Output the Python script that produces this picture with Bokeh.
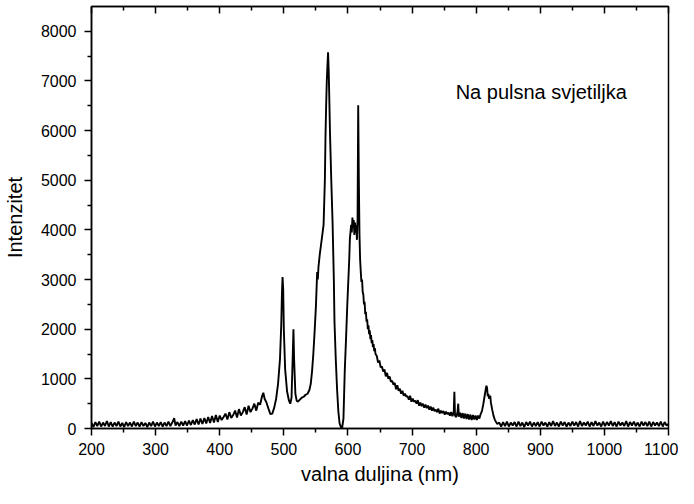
from bokeh.plotting import figure
from bokeh.models import Range1d, LinearAxis, Label, FixedTicker, CustomLabelingPolicy
from bokeh.embed import file_html
from bokeh.resources import INLINE

# spectrum: wavelength (nm) and intensity
wavelength = [
    200, 203, 206, 209, 212, 215, 218, 221, 224, 227, 230, 233, 236, 239, 242, 245, 248, 251, 254, 257,
    260, 263, 266, 269, 272, 275, 278, 281, 284, 287, 290, 293, 296, 299, 302, 305, 308, 311, 314, 317,
    320, 323, 326, 329, 331, 334, 337, 340, 343, 346, 349, 352, 355, 358, 361, 364, 367, 370, 373, 376,
    379, 382, 385, 388, 391, 394, 397, 400, 403, 406, 409, 412, 415, 418, 421, 424, 427, 430, 433, 436,
    439, 442, 445, 448, 451, 454, 457, 460, 463, 466, 468, 470, 473, 476, 479, 482, 485, 488, 491, 494,
    496, 497, 498, 499, 500, 502, 505, 508, 510, 512, 514, 515, 516, 518, 520, 522, 525, 528, 531, 534,
    537, 540, 542, 544, 546, 548, 550, 551, 552, 553, 554, 556, 558, 560, 562, 564, 565, 566, 567, 568,
    569, 570, 571, 572, 574, 576, 578, 579, 581, 583, 585, 587, 589, 591, 593, 595, 597, 599, 600, 602,
    603, 605, 606, 607, 608, 609, 610, 611, 612, 613, 614, 615, 616, 617, 618, 619, 620, 621, 622, 623,
    624, 625, 626, 627, 628, 629, 630, 631, 632, 633, 634, 635, 636, 637, 638, 639, 640, 641, 642, 643,
    645, 647, 649, 651, 653, 655, 657, 659, 661, 663, 665, 667, 669, 671, 673, 675, 677, 679, 681, 683,
    685, 687, 689, 691, 693, 695, 697, 699, 701, 703, 705, 707, 709, 711, 713, 715, 717, 719, 721, 723,
    725, 727, 729, 731, 733, 735, 737, 739, 741, 743, 745, 747, 749, 751, 753, 755, 757, 759, 761, 763,
    765, 766, 767, 769, 771, 772, 773, 775, 777, 779, 781, 783, 785, 787, 789, 791, 793, 795, 797, 799,
    801, 803, 805, 807, 809, 811, 813, 815, 816, 817, 818, 819, 820, 821, 822, 823, 825, 827, 829, 831,
    833, 836, 839, 842, 845, 848, 851, 854, 857, 860, 863, 866, 869, 872, 875, 878, 881, 884, 887, 890,
    893, 896, 899, 902, 905, 908, 911, 914, 917, 920, 923, 926, 929, 932, 935, 938, 941, 944, 947, 950,
    953, 956, 959, 962, 965, 968, 971, 974, 977, 980, 983, 986, 989, 992, 995, 998, 1001, 1004, 1007, 1010,
    1013, 1016, 1019, 1022, 1025, 1028, 1031, 1034, 1037, 1040, 1043, 1046, 1049, 1052, 1055, 1058, 1061, 1064, 1067, 1070,
    1073, 1076, 1079, 1082, 1085, 1088, 1091, 1094, 1097, 1100,
]
intensity = [
    110, 30, 130, 50, 140, 40, 120, 50, 150, 40, 130, 40, 120, 50, 140, 40, 110, 30, 130, 50,
    120, 40, 140, 50, 120, 40, 130, 50, 110, 30, 120, 50, 140, 40, 120, 50, 130, 40, 120, 50,
    140, 50, 120, 210, 60, 130, 50, 140, 60, 150, 60, 160, 70, 170, 80, 190, 80, 200, 90, 210,
    100, 230, 110, 250, 120, 270, 130, 260, 170, 230, 300, 180, 330, 210, 270, 360, 220, 390, 260, 330,
    430, 280, 460, 330, 400, 500, 360, 520, 480, 650, 720, 600, 520, 400, 290, 300, 420, 600, 900, 1400,
    2100, 2700, 3050, 2800, 2000, 1200, 750, 560, 500, 620, 1500, 2000, 1400, 700, 560, 540, 580, 620, 640, 680,
    700, 780, 900, 1150, 1500, 1950, 2450, 2800, 3150, 3000, 3250, 3500, 3700, 3900, 4100, 5000, 5900, 6500, 7000, 7300,
    7580, 7200, 6600, 5950, 5000, 4160, 3000, 2150, 1400, 800, 350, 100, 30, 20, 200, 1150, 1800, 2500, 2800, 3400,
    3820, 4100, 3950, 4250, 4050, 4200, 3900, 4150, 3950, 4100, 3800, 4200, 6510, 5000, 3900, 3400, 3160, 2950, 3000, 2750,
    2700, 2500, 2550, 2300, 2350, 2150, 2200, 2000, 2080, 1900, 1980, 1800, 1880, 1720, 1780, 1640, 1700, 1560, 1620, 1500,
    1460, 1330, 1370, 1230, 1250, 1150, 1190, 1050, 1120, 1000, 1050, 940, 960, 880, 920, 790, 870, 760, 800, 700,
    760, 660, 700, 640, 650, 580, 660, 540, 600, 540, 560, 500, 570, 460, 520, 450, 500, 420, 480, 410,
    460, 380, 440, 360, 420, 350, 380, 330, 400, 300, 360, 310, 350, 280, 340, 290, 320, 260, 330, 250,
    330, 740, 260, 230, 340, 500, 240, 320, 210, 310, 200, 300, 190, 290, 180, 280, 170, 270, 180, 260,
    170, 260, 200, 290, 350, 480, 640, 800, 860, 820, 650, 700, 600, 640, 660, 520, 380, 260, 180, 130,
    90, 120, 40, 130, 50, 140, 40, 120, 60, 130, 40, 140, 50, 120, 30, 130, 60, 140, 40, 120,
    50, 130, 40, 140, 60, 120, 40, 130, 50, 150, 50, 120, 40, 140, 60, 130, 40, 120, 50, 140,
    60, 130, 40, 150, 50, 120, 60, 140, 40, 130, 50, 150, 60, 120, 40, 140, 50, 130, 60, 150,
    50, 130, 40, 140, 60, 120, 50, 150, 40, 130, 60, 140, 50, 120, 40, 140, 60, 130, 50, 140,
    40, 130, 60, 120, 50, 140, 40, 130, 60, 90,
]

x_major = [200, 300, 400, 500, 600, 700, 800, 900, 1000, 1100]
x_minor = [250, 350, 450, 550, 650, 750, 850, 950, 1050]
y_major = [0, 1000, 2000, 3000, 4000, 5000, 6000, 7000, 8000]
y_minor = [500, 1500, 2500, 3500, 4500, 5500, 6500, 7500]

x_title = "valna duljina (nm)"
y_title = "Intenzitet"
note = "Na pulsna svjetiljka"

FONT = "Liberation Sans"

p = figure(width=678, height=488, output_backend="svg", toolbar_location=None,
           x_range=Range1d(200, 1100), y_range=Range1d(0, 8500),
           min_border_left=88, min_border_right=10, min_border_top=6, min_border_bottom=60,
           x_axis_label=x_title, y_axis_label=y_title)
p.grid.visible = False
p.outline_line_color = "black"
p.outline_line_width = 1.5
p.background_fill_color = "white"
p.border_fill_color = "white"

p.line(wavelength, intensity, line_color="black", line_width=1.9)

p.xaxis.ticker = FixedTicker(ticks=x_major, minor_ticks=x_minor)
p.yaxis.ticker = FixedTicker(ticks=y_major, minor_ticks=y_minor)

for ax in (p.xaxis[0], p.yaxis[0]):
    ax.axis_line_width = 1.5
    ax.major_tick_line_width = 1.5
    ax.minor_tick_line_width = 1.5
    ax.major_tick_in = 0
    ax.minor_tick_in = 0
    ax.major_tick_out = 7
    ax.minor_tick_out = 4
    ax.major_label_text_font = FONT
    ax.major_label_text_font_size = "16px"
    ax.major_label_text_color = "black"
    ax.axis_label_text_font = FONT
    ax.axis_label_text_font_size = "20px"
    ax.axis_label_text_font_style = "normal"
    ax.axis_label_text_color = "black"

p.xaxis.major_label_standoff = 7
p.xaxis.axis_label_standoff = 5
p.yaxis.major_label_standoff = 8
p.yaxis.axis_label_standoff = 12

top = LinearAxis(ticker=FixedTicker(ticks=x_major, minor_ticks=x_minor))
top.axis_line_width = 1.5
top.major_tick_line_width = 1.5
top.minor_tick_line_width = 1.5
top.major_tick_in = 7
top.major_tick_out = 0
top.minor_tick_in = 4
top.minor_tick_out = 0
top.major_label_text_font_size = "1px"
top.major_label_standoff = 0
top.major_label_policy = CustomLabelingPolicy(code="""
    for (const i of indices) {
        indices.unset(i)
    }
    return indices
""")
p.add_layout(top, "above")

p.add_layout(Label(x=768, y=6770, text=note, text_font=FONT,
                   text_font_size="20px", text_baseline="middle", text_align="left",
                   text_color="black"))

open("out.html", "w").write(file_html(p, INLINE))
